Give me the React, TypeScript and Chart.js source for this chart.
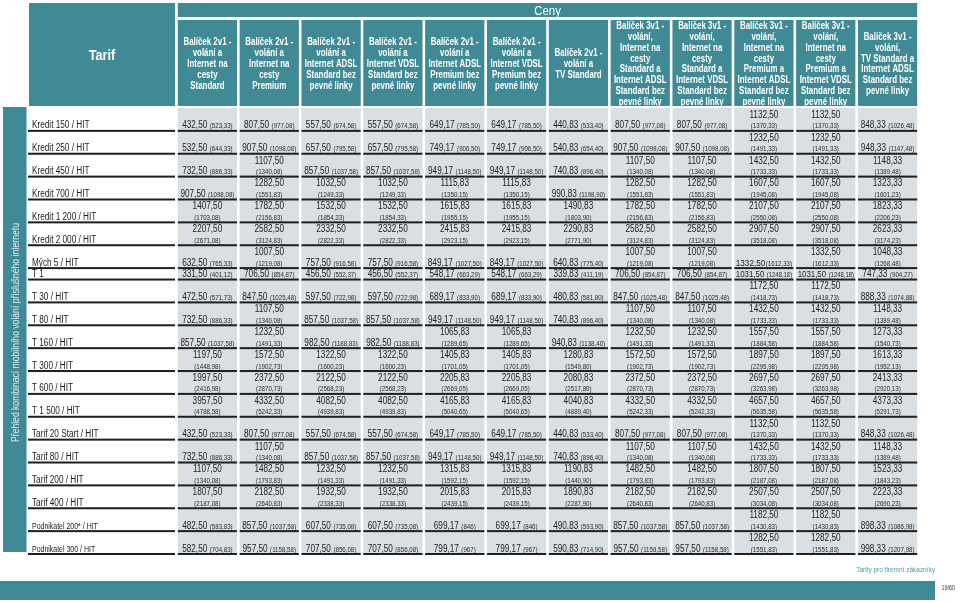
import React, { useEffect, useRef } from "react";
import { Chart, registerables } from "chart.js";
Chart.register(...registerables);

// ---------- DATA ----------
const tableTitle = "Tarif";
const groupTitle = "Ceny";
const sideTitle = "Přehled kombinací mobilního volání příslušného internetu";
const footerText = "Tarify pro firemní zákazníky";
const pageText = "19/60";

const columnLabels: string[][] = [
  ["Balíček 2v1 -", "volání a", "Internet na", "cesty", "Standard"],
  ["Balíček 2v1 -", "volání a", "Internet na", "cesty", "Premium"],
  ["Balíček 2v1 -", "volání a", "Internet ADSL", "Standard bez", "pevné linky"],
  ["Balíček 2v1 -", "volání a", "Internet VDSL", "Standard bez", "pevné linky"],
  ["Balíček 2v1 -", "volání a", "Internet ADSL", "Premium bez", "pevné linky"],
  ["Balíček 2v1 -", "volání a", "Internet VDSL", "Premium bez", "pevné linky"],
  ["Balíček 2v1 -", "volání a", "TV Standard"],
  ["Balíček 3v1 -", "volání,", "Internet na", "cesty", "Standard a", "Internet ADSL", "Standard bez", "pevné linky"],
  ["Balíček 3v1 -", "volání,", "Internet na", "cesty", "Standard a", "Internet VDSL", "Standard bez", "pevné linky"],
  ["Balíček 3v1 -", "volání,", "Internet na", "cesty", "Premium a", "Internet ADSL", "Standard bez", "pevné linky"],
  ["Balíček 3v1 -", "volání,", "Internet na", "cesty", "Premium a", "Internet VDSL", "Standard bez", "pevné linky"],
  ["Balíček 3v1 -", "volání,", "TV Standard a", "Internet ADSL", "Standard bez", "pevné linky"],
];

const rowLabels: string[] = [
  "Kredit 150 / HIT",
  "Kredit 250 / HIT",
  "Kredit 450 / HIT",
  "Kredit 700 / HIT",
  "Kredit 1 200 / HIT",
  "Kredit 2 000 / HIT",
  "Mých 5 / HIT",
  "T 1",
  "T 30 / HIT",
  "T 80 / HIT",
  "T 160 / HIT",
  "T 300 / HIT",
  "T 600 / HIT",
  "T 1 500 / HIT",
  "Tarif 20 Start / HIT",
  "Tarif 80 / HIT",
  "Tarif 200 / HIT",
  "Tarif 400 / HIT",
  "Podnikatel 200* / HIT",
  "Podnikatel 300 / HIT",
];

// prices without VAT
const netPrices: number[][] = [
  [432.5, 807.5, 557.5, 557.5, 649.17, 649.17, 440.83, 807.5, 807.5, 1132.5, 1132.5, 848.33],
  [532.5, 907.5, 657.5, 657.5, 749.17, 749.17, 540.83, 907.5, 907.5, 1232.5, 1232.5, 948.33],
  [732.5, 1107.5, 857.5, 857.5, 949.17, 949.17, 740.83, 1107.5, 1107.5, 1432.5, 1432.5, 1148.33],
  [907.5, 1282.5, 1032.5, 1032.5, 1115.83, 1115.83, 990.83, 1282.5, 1282.5, 1607.5, 1607.5, 1323.33],
  [1407.5, 1782.5, 1532.5, 1532.5, 1615.83, 1615.83, 1490.83, 1782.5, 1782.5, 2107.5, 2107.5, 1823.33],
  [2207.5, 2582.5, 2332.5, 2332.5, 2415.83, 2415.83, 2290.83, 2582.5, 2582.5, 2907.5, 2907.5, 2623.33],
  [632.5, 1007.5, 757.5, 757.5, 849.17, 849.17, 640.83, 1007.5, 1007.5, 1332.5, 1332.5, 1048.33],
  [331.5, 706.5, 456.5, 456.5, 548.17, 548.17, 339.83, 706.5, 706.5, 1031.5, 1031.5, 747.33],
  [472.5, 847.5, 597.5, 597.5, 689.17, 689.17, 480.83, 847.5, 847.5, 1172.5, 1172.5, 888.33],
  [732.5, 1107.5, 857.5, 857.5, 949.17, 949.17, 740.83, 1107.5, 1107.5, 1432.5, 1432.5, 1148.33],
  [857.5, 1232.5, 982.5, 982.5, 1065.83, 1065.83, 940.83, 1232.5, 1232.5, 1557.5, 1557.5, 1273.33],
  [1197.5, 1572.5, 1322.5, 1322.5, 1405.83, 1405.83, 1280.83, 1572.5, 1572.5, 1897.5, 1897.5, 1613.33],
  [1997.5, 2372.5, 2122.5, 2122.5, 2205.83, 2205.83, 2080.83, 2372.5, 2372.5, 2697.5, 2697.5, 2413.33],
  [3957.5, 4332.5, 4082.5, 4082.5, 4165.83, 4165.83, 4040.83, 4332.5, 4332.5, 4657.5, 4657.5, 4373.33],
  [432.5, 807.5, 557.5, 557.5, 649.17, 649.17, 440.83, 807.5, 807.5, 1132.5, 1132.5, 848.33],
  [732.5, 1107.5, 857.5, 857.5, 949.17, 949.17, 740.83, 1107.5, 1107.5, 1432.5, 1432.5, 1148.33],
  [1107.5, 1482.5, 1232.5, 1232.5, 1315.83, 1315.83, 1190.83, 1482.5, 1482.5, 1807.5, 1807.5, 1523.33],
  [1807.5, 2182.5, 1932.5, 1932.5, 2015.83, 2015.83, 1890.83, 2182.5, 2182.5, 2507.5, 2507.5, 2223.33],
  [482.5, 857.5, 607.5, 607.5, 699.17, 699.17, 490.83, 857.5, 857.5, 1182.5, 1182.5, 898.33],
  [582.5, 957.5, 707.5, 707.5, 799.17, 799.17, 590.83, 957.5, 957.5, 1282.5, 1282.5, 998.33],
];

// prices with VAT
const grossPrices: number[][] = [
  [523.33, 977.08, 674.58, 674.58, 785.5, 785.5, 533.4, 977.08, 977.08, 1370.33, 1370.33, 1026.48],
  [644.33, 1098.08, 795.58, 795.58, 906.5, 906.5, 654.4, 1098.08, 1098.08, 1491.33, 1491.33, 1147.48],
  [886.33, 1340.08, 1037.58, 1037.58, 1148.5, 1148.5, 896.4, 1340.08, 1340.08, 1733.33, 1733.33, 1389.48],
  [1098.08, 1551.83, 1249.33, 1249.33, 1350.15, 1350.15, 1198.9, 1551.83, 1551.83, 1945.08, 1945.08, 1601.23],
  [1703.08, 2156.83, 1854.33, 1854.33, 1955.15, 1955.15, 1803.9, 2156.83, 2156.83, 2550.08, 2550.08, 2206.23],
  [2671.08, 3124.83, 2822.33, 2822.33, 2923.15, 2923.15, 2771.9, 3124.83, 3124.83, 3518.08, 3518.08, 3174.23],
  [765.33, 1219.08, 916.58, 916.58, 1027.5, 1027.5, 775.4, 1219.08, 1219.08, 1612.33, 1612.33, 1268.48],
  [401.12, 854.87, 552.37, 552.37, 663.29, 663.29, 411.19, 854.87, 854.87, 1248.18, 1248.18, 904.27],
  [571.73, 1025.48, 722.98, 722.98, 833.9, 833.9, 581.8, 1025.48, 1025.48, 1418.73, 1418.73, 1074.88],
  [886.33, 1340.08, 1037.58, 1037.58, 1148.5, 1148.5, 896.4, 1340.08, 1340.08, 1733.33, 1733.33, 1389.48],
  [1037.58, 1491.33, 1188.83, 1188.83, 1289.65, 1289.65, 1138.4, 1491.33, 1491.33, 1884.58, 1884.58, 1540.73],
  [1448.98, 1902.73, 1600.23, 1600.23, 1701.05, 1701.05, 1549.8, 1902.73, 1902.73, 2295.98, 2295.98, 1952.13],
  [2416.98, 2870.73, 2568.23, 2568.23, 2669.05, 2669.05, 2517.8, 2870.73, 2870.73, 3263.98, 3263.98, 2920.13],
  [4788.58, 5242.33, 4939.83, 4939.83, 5040.65, 5040.65, 4889.4, 5242.33, 5242.33, 5635.58, 5635.58, 5291.73],
  [523.33, 977.08, 674.58, 674.58, 785.5, 785.5, 533.4, 977.08, 977.08, 1370.33, 1370.33, 1026.48],
  [886.33, 1340.08, 1037.58, 1037.58, 1148.5, 1148.5, 896.4, 1340.08, 1340.08, 1733.33, 1733.33, 1389.48],
  [1340.08, 1793.83, 1491.33, 1491.33, 1592.15, 1592.15, 1440.9, 1793.83, 1793.83, 2187.08, 2187.08, 1843.23],
  [2187.08, 2640.83, 2338.33, 2338.33, 2439.15, 2439.15, 2287.9, 2640.83, 2640.83, 3034.08, 3034.08, 2690.23],
  [583.83, 1037.58, 735.08, 735.08, 846, 846, 593.9, 1037.58, 1037.58, 1430.83, 1430.83, 1086.98],
  [704.83, 1158.58, 856.08, 856.08, 967, 967, 714.9, 1158.58, 1158.58, 1551.83, 1551.83, 1207.98],
];

// rows printed on a single short line in the source
const compactRows: string[] = ["T 1"];

// ---------- STYLE ----------
const TEAL = "#3f8a95";
const CELL = "#d9dfe2";
const RULE = "#1f1f1f";
const INK = "#1c1c1c";
const FONT = '"Liberation Sans", Arial, sans-serif';

const rowStarts: number[] = [];
const rowEnds: number[] = [];
(() => {
  let acc = 0;
  rowLabels.forEach((l) => {
    rowStarts.push(acc);
    acc += compactRows.includes(l) ? 0.5 : 1;
    rowEnds.push(acc);
  });
})();
const totalUnits = rowEnds[rowEnds.length - 1];

function fmt(n: number): string {
  if (Number.isInteger(n)) return String(n);
  return n.toFixed(2).replace(".", ",");
}

function setFont(ctx: CanvasRenderingContext2D, size: number, bold = false) {
  ctx.font = `${bold ? "bold " : ""}${size}px ${FONT}`;
}

function measure(ctx: CanvasRenderingContext2D, s: string, size: number, bold: boolean, sx: number) {
  setFont(ctx, size, bold);
  return ctx.measureText(s).width * sx;
}

function drawText(
  ctx: CanvasRenderingContext2D,
  s: string,
  x: number,
  y: number,
  size: number,
  color: string,
  align: "left" | "center" | "right",
  bold = false,
  sx = 0.82
) {
  ctx.save();
  setFont(ctx, size, bold);
  const w = ctx.measureText(s).width * sx;
  const x0 = align === "left" ? x : align === "center" ? x - w / 2 : x - w;
  ctx.translate(x0, y);
  ctx.scale(sx, 1);
  ctx.fillStyle = color;
  ctx.textAlign = "left";
  ctx.textBaseline = "alphabetic";
  ctx.fillText(s, 0, 0);
  ctx.restore();
}

const tablePlugin = {
  id: "priceTable",
  afterDatasetsDraw(chart: any) {
    const ctx: CanvasRenderingContext2D = chart.ctx;
    const ys = chart.scales.y;
    const area = chart.chartArea;
    const cols = chart.getDatasetMeta(0).data.map((el: any) => {
      const p = el.getProps(["x", "width"], true);
      return { l: p.x - p.width / 2, r: p.x + p.width / 2, c: p.x, w: p.width };
    });
    const labelL = 28;
    const labelR = 175;
    const headTop = 3;
    const headBottom = area.top - 2;
    const subTop = 20;

    // header: Tarif
    ctx.fillStyle = TEAL;
    ctx.fillRect(labelL + 1, headTop, labelR - labelL - 1, headBottom - headTop);
    drawText(ctx, tableTitle, (labelL + 1 + labelR) / 2, 60, 15, "#ffffff", "center", true, 0.85);

    // header: Ceny
    ctx.fillStyle = TEAL;
    const cl = cols[0].l;
    const cr = cols[cols.length - 1].r;
    ctx.fillRect(cl, headTop, cr - cl, 14);
    drawText(ctx, groupTitle, (cl + cr) / 2, 14.5, 13, "#ffffff", "center", false, 0.88);

    // column headers
    const lh = 10.8;
    const headMid = (subTop + headBottom) / 2 + 0.5;
    cols.forEach((col: any, i: number) => {
      ctx.fillStyle = TEAL;
      ctx.fillRect(col.l, subTop, col.w, headBottom - subTop);
      const lines = columnLabels[i];
      const first = headMid - ((lines.length - 1) * lh) / 2;
      lines.forEach((ln, k) => {
        drawText(ctx, ln, col.c, first + k * lh + 3.5, 10, "#ffffff", "center", true, 0.79);
      });
    });

    // side bar
    ctx.fillStyle = TEAL;
    const sideTop = area.top - 1;
    const sideBottom = ys.getPixelForValue(totalUnits) - 2;
    ctx.fillRect(3, sideTop, 23.5, sideBottom - sideTop);
    ctx.save();
    ctx.translate(18.5, (sideTop + sideBottom) / 2 + 3);
    ctx.rotate(-Math.PI / 2);
    drawText(ctx, sideTitle, 0, 0, 10, "rgba(236,245,246,0.92)", "center", false, 0.86);
    ctx.restore();

    // rows
    rowLabels.forEach((label, r) => {
      const yEnd = ys.getPixelForValue(rowEnds[r]);
      const compact = compactRows.includes(label);
      // rules
      ctx.fillStyle = RULE;
      ctx.fillRect(labelL, yEnd - 1, labelR - labelL, 2);
      cols.forEach((col: any) => ctx.fillRect(col.l, yEnd - 1, col.w, 2));
      // row label
      const small = label.startsWith("Podnikatel");
      drawText(ctx, label, 32, yEnd - 2.5, small ? 8.5 : 10, INK, "left", false, 0.82);
      // cells
      cols.forEach((col: any, c: number) => {
        const net = netPrices[r][c];
        const gross = grossPrices[r][c];
        const netS = fmt(net);
        const grossS = "(" + fmt(gross) + ")";
        const twoLine = !compact && net >= 1000 && !(r === 6 && c === 9);
        if (twoLine) {
          drawText(ctx, netS, col.c, yEnd - 13, 10, INK, "center");
          drawText(ctx, grossS, col.c, yEnd - 2.5, 7.5, "#2a2a2a", "center");
        } else {
          const gap = r === 6 && c === 9 ? 0.5 : 2.5;
          let s1 = 10;
          let s2 = 7.5;
          let w1 = measure(ctx, netS, s1, false, 0.82);
          let w2 = measure(ctx, grossS, s2, false, 0.82);
          let tot = w1 + gap + w2;
          const maxW = col.w - 3;
          if (tot > maxW) {
            const k = maxW / tot;
            s1 *= k;
            s2 *= k;
            w1 *= k;
            w2 *= k;
            tot = maxW;
          }
          const x0 = col.c - tot / 2;
          drawText(ctx, netS, x0, yEnd - 2.5, s1, INK, "left");
          drawText(ctx, grossS, x0 + w1 + gap, yEnd - 2.5, s2, "#2a2a2a", "left");
        }
      });
    });

    // footer
    drawText(ctx, footerText, 935, 572, 8, "#4f9ba6", "right", false, 0.81);
    ctx.fillStyle = TEAL;
    ctx.fillRect(0, 581, 935, 19);
    drawText(ctx, pageText, 955, 590, 7.5, "#333333", "right", false, 0.72);
  },
};

export default function App() {
  const ref = useRef<HTMLCanvasElement>(null);
  useEffect(() => {
    const canvas = ref.current!;
    const datasets = rowLabels.map((label, r) => ({
      label,
      data: netPrices[r].map(() => [rowStarts[r], rowEnds[r]]),
      backgroundColor: CELL,
      borderWidth: 0,
      grouped: false,
      barPercentage: 0.958,
      categoryPercentage: 1,
    }));
    const chart = new Chart(canvas, {
      type: "bar",
      data: { labels: columnLabels as any, datasets: datasets as any },
      options: {
        animation: false,
        responsive: false,
        maintainAspectRatio: false,
        events: [],
        layout: { padding: { left: 176.5, right: 41.5, top: 108, bottom: 48 } },
        plugins: { legend: { display: false }, tooltip: { enabled: false } },
        scales: {
          x: { display: false, offset: true, grid: { display: false } },
          y: { display: false, min: 0, max: totalUnits, reverse: true, grid: { display: false } },
        },
      },
      plugins: [tablePlugin as any],
    });
    return () => chart.destroy();
  }, []);
  return (
    <div style={{ position: "fixed", left: 0, top: 0, width: 960, height: 602, background: "#ffffff" }}>
      <canvas ref={ref} width={960} height={602} style={{ width: 960, height: 602, display: "block" }} />
    </div>
  );
}
